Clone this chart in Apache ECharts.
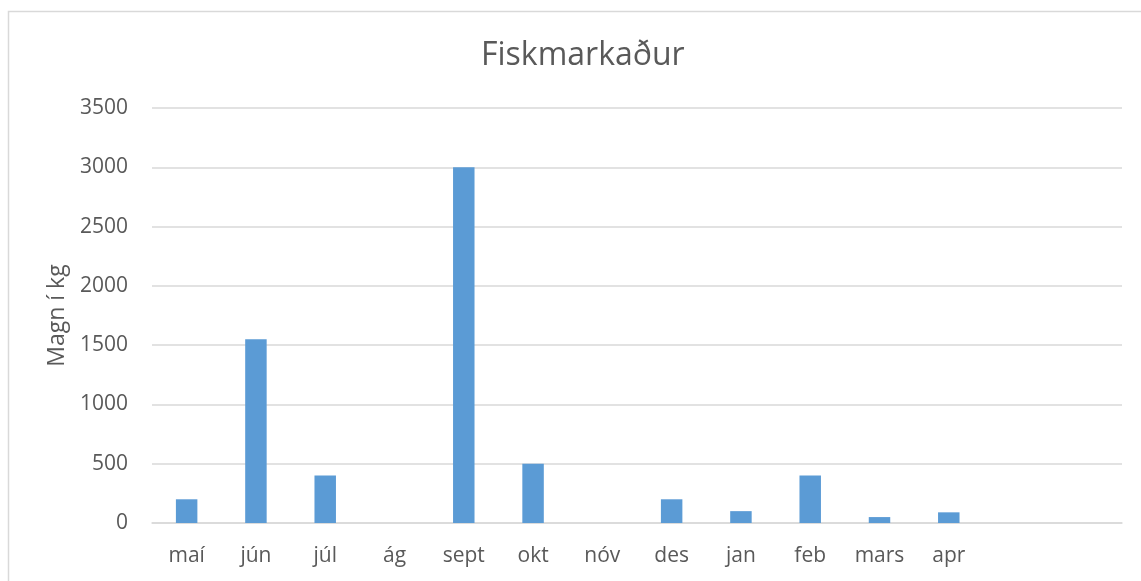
<!DOCTYPE html>
<html>
<head>
<meta charset="utf-8">
<script src="https://cdn.jsdelivr.net/npm/echarts@6/dist/echarts.min.js"></script>
<style>
html, body { margin: 0; padding: 0; background: #fff; }
#chart { width: 1141px; height: 581px; }
</style>
</head>
<body>
<div id="chart"></div>
<script>
// mánuðir (tveir tómir flokkar í lokin)
var months = ['maí', 'jún', 'júl', 'ág', 'sept', 'okt', 'nóv', 'des', 'jan', 'feb', 'mars', 'apr', '', '']
var magn = [200, 1550, 400, 0, 3000, 500, 0, 200, 100, 400, 50, 90, null, null]
var yTicks = [0, 500, 1000, 1500, 2000, 2500, 3000, 3500]

var txt = '#595959'
var font = '"Open Sans", sans-serif'

var chart = echarts.init(document.getElementById('chart'))

var option = {}
option.animation = false
option.textStyle = { fontFamily: font }

option.title = {
	text: 'Fiskmarkaður',
	left: 476,
	top: 35,
	textStyle: { color: txt, fontSize: 32, fontWeight: 'normal', fontFamily: font }
}

// rammi utan um grafið
option.graphic = [{
	type: 'rect',
	left: 6,
	top: 9,
	shape: { width: 1160, height: 600 },
	style: { fill: 'none', stroke: '#d9d9d9', lineWidth: 1.5 },
	silent: true
}]

option.grid = {
	left: 152,
	right: 19,
	top: 108,
	bottom: 58,
	containLabel: false
}

option.xAxis = {
	type: 'category',
	data: months,
	axisTick: { show: false },
	axisLine: { lineStyle: { color: '#d9d9d9', width: 1.5 } },
	axisLabel: { color: txt, fontSize: 21, margin: 23, interval: 0 }
}

option.yAxis = {
	type: 'value',
	min: yTicks[0],
	max: yTicks[yTicks.length - 1],
	interval: 500,
	name: 'Magn í kg',
	nameLocation: 'middle',
	nameGap: 80,
	nameTextStyle: { color: txt, fontSize: 23 },
	axisLine: { show: false },
	axisTick: { show: false },
	axisLabel: { color: txt, fontSize: 21, margin: 24, formatter: function(v) { return String(v) } },
	splitLine: { lineStyle: { color: '#d9d9d9', width: 1.5 } }
}

option.series = [{
	type: 'bar',
	data: magn,
	barWidth: '31%',
	itemStyle: { color: '#5b9bd5' }
}]

chart.setOption(option)
</script>
</body>
</html>
